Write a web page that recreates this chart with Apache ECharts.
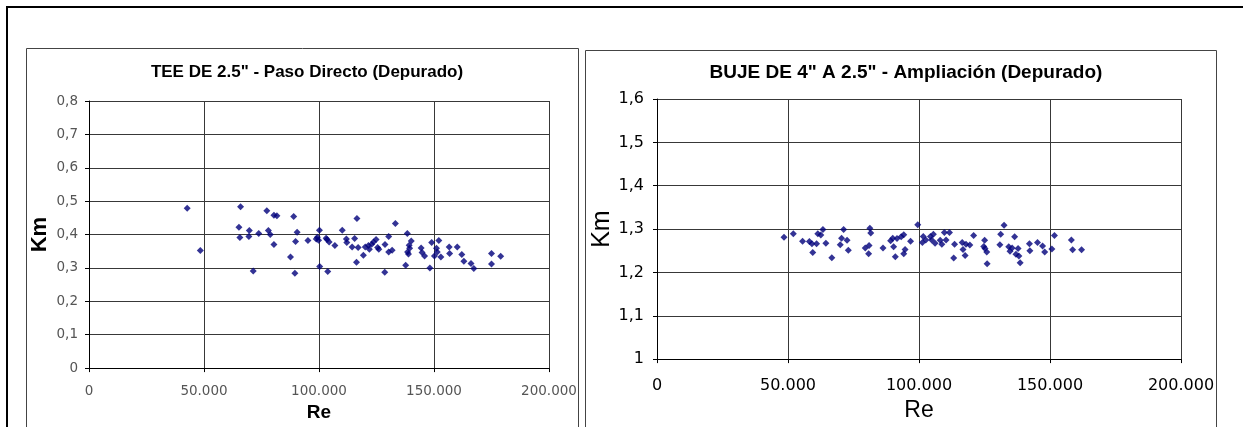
<!DOCTYPE html>
<html><head><meta charset="utf-8">
<script src="https://cdn.jsdelivr.net/npm/echarts@6/dist/echarts.min.js"></script>
<style>html,body{margin:0;padding:0;background:#fff;}#c{width:1243px;height:427px;}</style>
</head><body><div id="c"></div>
<script>
// Left chart: TEE DE 2.5" - Paso Directo (Depurado)
const teeRe = [42700,48400,65900,65200,65600,69700,69500,71400,73800,77300,78000,78800,80400,81700,80400,87600,89000,89500,89800,90500,95200,98800,99300,99800,100200,100300,103100,103500,104400,103800,106900,110100,111900,112100,114400,115500,116500,116300,117000,119300,120100,121500,121900,122900,123700,124800,125500,126000,128600,128700,130300,130300,131800,133200,137700,138400,138500,138900,139200,139400,140100,144400,144800,145900,148200,149000,150200,151100,151400,152100,153000,156600,156800,160100,162100,163000,166100,167300,175000,175000,179000];
const teeKm = [0.479,0.352,0.483,0.422,0.391,0.412,0.394,0.291,0.403,0.471,0.412,0.400,0.458,0.456,0.370,0.333,0.454,0.284,0.379,0.407,0.382,0.387,0.392,0.383,0.413,0.304,0.389,0.385,0.378,0.289,0.367,0.413,0.387,0.376,0.363,0.388,0.448,0.317,0.361,0.338,0.363,0.367,0.356,0.371,0.378,0.385,0.361,0.356,0.287,0.370,0.394,0.348,0.353,0.433,0.308,0.403,0.348,0.342,0.368,0.359,0.381,0.360,0.346,0.336,0.300,0.376,0.336,0.359,0.348,0.382,0.333,0.363,0.343,0.363,0.340,0.320,0.313,0.298,0.343,0.312,0.335];
// Right chart: BUJE DE 4" A 2.5" - Ampliación (Depurado)
const bujeRe = [48470,52020,55570,58160,59130,59450,60900,61390,62520,63330,64460,66720,69950,70440,71240,72540,73020,79480,80940,80780,81260,81580,86270,89180,89980,90310,90950,91600,93210,94180,94180,94670,96770,99520,101290,101620,102590,104360,104850,105490,106140,108080,108720,109690,110340,111630,113570,113250,116480,116800,117610,117930,119390,120840,125040,124720,125200,125850,126010,130860,131180,132470,134250,134730,135540,136510,137000,137800,138120,138610,142160,142330,145230,147170,147980,150720,151700,158160,158640,162040];
const bujeKm = [1.281,1.289,1.272,1.271,1.266,1.246,1.266,1.289,1.286,1.299,1.267,1.234,1.264,1.279,1.299,1.274,1.251,1.256,1.262,1.243,1.302,1.291,1.256,1.273,1.279,1.259,1.236,1.278,1.282,1.287,1.243,1.253,1.272,1.310,1.269,1.283,1.275,1.283,1.275,1.288,1.267,1.274,1.265,1.292,1.275,1.292,1.265,1.233,1.269,1.253,1.239,1.265,1.263,1.285,1.274,1.260,1.255,1.247,1.220,1.264,1.288,1.309,1.259,1.249,1.256,1.282,1.242,1.255,1.238,1.222,1.266,1.250,1.269,1.261,1.247,1.254,1.285,1.275,1.252,1.252];
const titles = ['TEE DE 2.5" - Paso Directo (Depurado)', 'BUJE DE 4" A 2.5" - Ampliación (Depurado)'];
const xTicks = [0, 50000, 100000, 150000, 200000];

const pair = (xs, ys) => xs.map((x, i) => [x, ys[i]]);
const fmtRe = v => v === 0 ? '0' : String(v).replace(/\B(?=(\d{3})+(?!\d))/g, '.');
const fmtKm = v => v === 0 ? '0' : String(Math.round(v * 10) / 10).replace('.', ',');

const chart = echarts.init(document.getElementById('c'), null, {renderer: 'canvas'});
const gridLine = {show: true, lineStyle: {color: '#383838', width: 1}};
chart.setOption({
  animation: false,
  backgroundColor: '#fff',
  graphic: [
    {type: 'rect', shape: {x: 7, y: 7, width: 1260, height: 450}, style: {fill: 'none', stroke: '#000', lineWidth: 2}},
    {type: 'rect', shape: {x: 26.5, y: 48.5, width: 552, height: 400}, style: {fill: 'none', stroke: '#444', lineWidth: 1}},
    {type: 'rect', shape: {x: 585.5, y: 50.5, width: 631, height: 400}, style: {fill: 'none', stroke: '#444', lineWidth: 1}}
  ],
  title: [
    {text: titles[0], left: 302, top: 59, textAlign: 'center',
     textStyle: {fontFamily: 'Liberation Sans', fontWeight: 'bold', fontSize: 17, color: '#000'}},
    {text: titles[1], left: 901, top: 58, textAlign: 'center',
     textStyle: {fontFamily: 'Liberation Sans', fontWeight: 'bold', fontSize: 19, color: '#000'}}
  ],
  grid: [
    {left: 89, top: 101, width: 460, height: 268},
    {left: 657, top: 99, width: 524, height: 261}
  ],
  xAxis: [
    {gridIndex: 0, type: 'value', min: 0, max: 200000, interval: 50000,
     name: 'Re', nameLocation: 'middle', nameGap: 31,
     nameTextStyle: {fontFamily: 'Liberation Sans', fontWeight: 'bold', fontSize: 19, color: '#000'},
     axisLine: {lineStyle: {color: '#000'}}, axisTick: {show: true, length: 4, lineStyle: {color: '#000'}},
     axisLabel: {formatter: fmtRe, margin: 16, fontFamily: 'DejaVu Sans', fontSize: 13.5, color: '#555'},
     splitLine: gridLine},
    {gridIndex: 1, type: 'value', min: 0, max: 200000, interval: 50000,
     name: 'Re', nameLocation: 'middle', nameGap: 38,
     nameTextStyle: {fontFamily: 'Liberation Sans', fontSize: 23, color: '#000'},
     axisLine: {lineStyle: {color: '#000'}}, axisTick: {show: true, length: 4, lineStyle: {color: '#000'}},
     axisLabel: {formatter: fmtRe, margin: 19, fontFamily: 'DejaVu Sans', fontSize: 16, color: '#000'},
     splitLine: gridLine}
  ],
  yAxis: [
    {gridIndex: 0, type: 'value', min: 0, max: 0.8, interval: 0.1,
     name: 'Km', nameLocation: 'middle', nameGap: 38, nameRotate: 90,
     nameTextStyle: {fontFamily: 'Liberation Sans', fontWeight: 'bold', fontSize: 22, color: '#000'},
     axisLine: {show: true, lineStyle: {color: '#000'}}, axisTick: {show: true, length: 4, lineStyle: {color: '#000'}},
     axisLabel: {formatter: fmtKm, margin: 11, fontFamily: 'DejaVu Sans', fontSize: 13.5, color: '#555'},
     splitLine: gridLine},
    {gridIndex: 1, type: 'value', min: 1, max: 1.6, interval: 0.1,
     name: 'Km', nameLocation: 'middle', nameGap: 42, nameRotate: 90,
     nameTextStyle: {fontFamily: 'Liberation Sans', fontSize: 25, color: '#000'},
     axisLine: {show: true, lineStyle: {color: '#000'}}, axisTick: {show: true, length: 4, lineStyle: {color: '#000'}},
     axisLabel: {formatter: fmtKm, margin: 13, fontFamily: 'DejaVu Sans', fontSize: 16, color: '#000'},
     splitLine: gridLine}
  ],
  series: [
    {type: 'scatter', xAxisIndex: 0, yAxisIndex: 0, data: pair(teeRe, teeKm),
     symbol: 'diamond', symbolSize: 7, itemStyle: {color: '#00007a'}},
    {type: 'scatter', xAxisIndex: 1, yAxisIndex: 1, data: pair(bujeRe, bujeKm),
     symbol: 'diamond', symbolSize: 7, itemStyle: {color: '#00007a'}}
  ]
});
</script></body></html>
